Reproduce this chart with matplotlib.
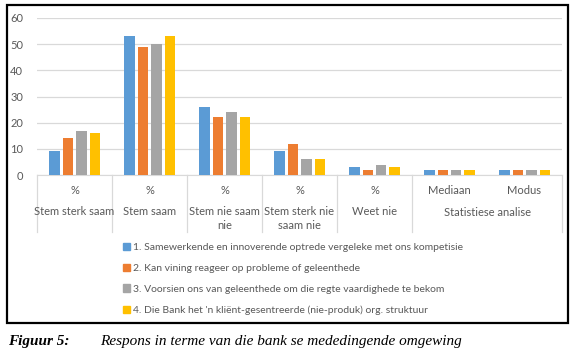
import matplotlib
matplotlib.use("Agg")
import matplotlib.pyplot as plt
from matplotlib.patches import Patch, Rectangle

# data
categories = ["Stem sterk saam", "Stem saam", "Stem nie saam\nnie",
              "Stem sterk nie\nsaam nie", "Weet nie", "Mediaan", "Modus"]
top_labels = ["%", "%", "%", "%", "%", "", ""]
group_label = "Statistiese analise"
series_names = [
    "1. Samewerkende en innoverende optrede vergeleke met ons kompetisie",
    "2. Kan vining reageer op probleme of geleenthede",
    "3. Voorsien ons van geleenthede om die regte vaardighede te bekom",
    "4. Die Bank het 'n kliënt-gesentreerde (nie-produk) org. struktuur",
]
s1 = [9, 53, 26, 9, 3, 2, 2]
s2 = [14, 49, 22, 12, 2, 2, 2]
s3 = [17, 50, 24, 6, 4, 2, 2]
s4 = [16, 53, 22, 6, 3, 2, 2]
colors = ["#5B9BD5", "#ED7D31", "#A5A5A5", "#FFC000"]

W, H = 573, 355
plt.rcParams["font.family"] = ["Lato", "DejaVu Sans"]
fig = plt.figure(figsize=(W / 100, H / 100), dpi=100)

# plot area in pixel terms
x0, x1, y0, y1 = 37, 562, 18, 175
ax = fig.add_axes([x0 / W, 1 - y1 / H, (x1 - x0) / W, (y1 - y0) / H])

n = len(categories)
step, bw = 0.18, 0.14
for i, vals in enumerate([s1, s2, s3, s4]):
    xs = [c + (i - 1.5) * step for c in range(n)]
    ax.bar(xs, vals, width=bw, color=colors[i], zorder=3)

ax.set_xlim(-0.5, n - 0.5)
ax.set_ylim(0, 60)
ax.set_yticks(range(0, 61, 10))
ax.yaxis.grid(True, color="#D9D9D9", linewidth=0.9, zorder=0)
for s in ["top", "right", "left"]:
    ax.spines[s].set_visible(False)
ax.spines["bottom"].set_color("#D9D9D9")
ax.tick_params(axis="y", length=0, pad=10, labelsize=8, labelcolor="#595959")
ax.set_xticks([])

# multi-level category axis drawn below the plot
txt = dict(ha="center", va="center", fontsize=8, color="#595959")
to_ax = lambda py: (y1 - py) / (y1 - y0) * 60
for c in range(n):
    if top_labels[c]:
        ax.text(c, to_ax(191), top_labels[c], **txt)
        ax.text(c, to_ax(206), categories[c], linespacing=1.3,
                **dict(txt, va="top"))
    else:
        ax.text(c, to_ax(191), categories[c], **txt)
ax.text(5.5, to_ax(212), group_label, **txt)
for b in [-0.5, 0.5, 1.5, 2.5, 3.5, 4.5, 6.5]:
    ax.plot([b, b], [0, to_ax(232)], color="#D9D9D9", linewidth=0.9, clip_on=False)

handles = [Patch(color=c) for c in colors]
fig.legend(handles, series_names, loc="upper left",
           bbox_to_anchor=(123 / W, 1 - 243 / H), frameon=False,
           fontsize=7.5, labelcolor="#595959", handlelength=0.7, handleheight=0.7,
           handletextpad=0.3, labelspacing=1.1, borderpad=0, borderaxespad=0)

# black frame around the chart
fig.patches.append(Rectangle((7 / W, 1 - 323 / H), 561 / W, 318 / H,
                             transform=fig.transFigure, fill=False,
                             edgecolor="black", linewidth=1.6))

# caption
fig.text(8 / W, 1 - 342 / H, "Figuur 5:", family="Liberation Serif",
         style="italic", weight="bold", fontsize=11, va="center")
fig.text(100 / W, 1 - 342 / H, "Respons in terme van die bank se mededingende omgewing",
         family="Liberation Serif", style="italic", fontsize=11, va="center")

fig.savefig("out.png", dpi=100)
